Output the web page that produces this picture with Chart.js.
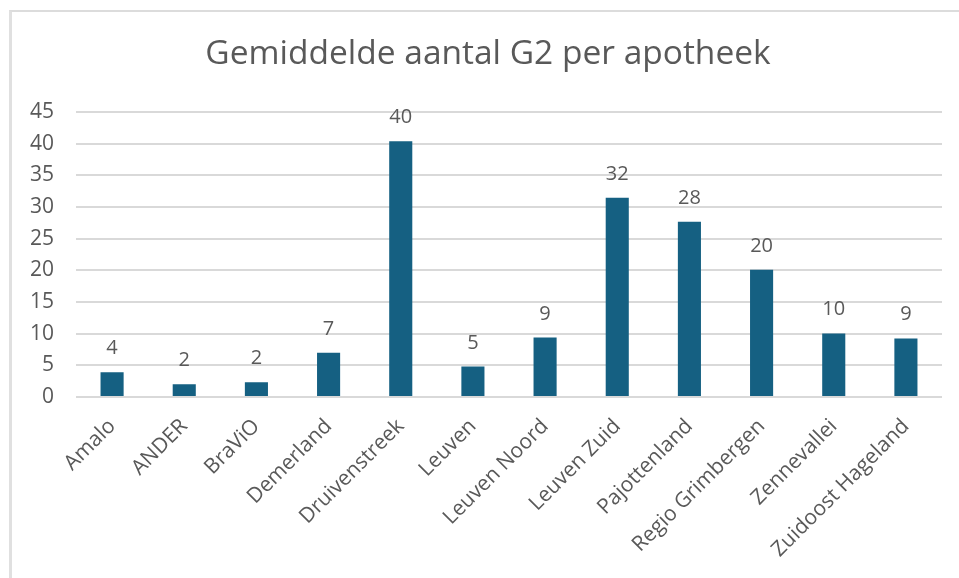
<!DOCTYPE html>
<html>
<head>
<meta charset="utf-8">
<script src="https://cdn.jsdelivr.net/npm/chart.js@4/dist/chart.umd.min.js"></script>
<style>
  html, body { margin: 0; padding: 0; background: #fff; width: 959px; height: 578px; overflow: hidden; }
  #card { position: absolute; left: 9px; top: 10px; width: 970px; height: 600px; border-left: 3px solid #e0e0e0; border-top: 2px solid #dcdcdc; box-sizing: border-box; }
  #wrap { position: absolute; left: 0; top: 0; width: 987px; height: 578px; }
</style>
</head>
<body>
<div id="card"></div>
<div id="wrap"><canvas id="c" width="987" height="578"></canvas></div>
<script>
const titleText = 'Gemiddelde aantal G2 per apotheek';
const categories = ['Amalo', 'ANDER', 'BraViO', 'Demerland', 'Druivenstreek', 'Leuven', 'Leuven Noord', 'Leuven Zuid', 'Pajottenland', 'Regio Grimbergen', 'Zennevallei', 'Zuidoost Hageland'];
const values = [3.9, 2.0, 2.35, 7.0, 40.4, 4.8, 9.4, 31.5, 27.7, 20.1, 10.05, 9.25];
const yTicks = [0, 5, 10, 15, 20, 25, 30, 35, 40, 45];

const FONT = "'Open Sans', 'Liberation Sans', Arial, sans-serif";
const TEXT = '#595959';

const dataLabels = {
  id: 'dataLabels',
  afterDatasetsDraw(chart) {
    const ctx = chart.ctx;
    const meta = chart.getDatasetMeta(0);
    ctx.save();
    ctx.font = '20px ' + FONT;
    ctx.fillStyle = TEXT;
    ctx.textAlign = 'center';
    ctx.textBaseline = 'alphabetic';
    meta.data.forEach((el, i) => {
      ctx.fillText(String(Math.round(values[i])), el.x, el.y - 18);
    });
    ctx.restore();
  }
};

new Chart(document.getElementById('c'), {
  type: 'bar',
  data: {
    labels: categories,
    datasets: [{
      data: values,
      backgroundColor: '#156082',
      borderWidth: 0,
      barPercentage: 0.64,
      categoryPercentage: 0.5
    }]
  },
  options: {
    responsive: false,
    devicePixelRatio: 1,
    animation: false,
    layout: { padding: { left: 6, right: 17, top: 14, bottom: 0 } },
    plugins: {
      legend: { display: false },
      tooltip: { enabled: false },
      title: {
        display: true,
        text: titleText,
        color: TEXT,
        font: { family: FONT, size: 33.5, weight: 'normal' },
        padding: { top: 20, bottom: 38 }
      }
    },
    scales: {
      x: {
        grid: { display: false },
        border: { display: false },
        ticks: {
          color: TEXT,
          font: { family: FONT, size: 21 },
          minRotation: 45,
          maxRotation: 45,
          autoSkip: false,
          padding: 9
        },
        afterFit(s) { s.height = 181; }
      },
      y: {
        min: 0,
        max: 45,
        afterBuildTicks(s) { s.ticks = yTicks.map(v => ({ value: v })); },
        grid: { color: '#d9d9d9', lineWidth: 2, drawTicks: false },
        border: { display: false },
        ticks: {
          color: TEXT,
          font: { family: FONT, size: 21 },
          padding: 22
        },
        afterFit(s) { s.width = 70; }
      },
      yRight: {
        position: 'right',
        min: 0,
        max: 45,
        grid: { display: false },
        border: { display: false },
        ticks: { display: false },
        afterFit(s) { s.width = 28; }
      }
    }
  },
  plugins: [dataLabels]
});
</script>
</body>
</html>
